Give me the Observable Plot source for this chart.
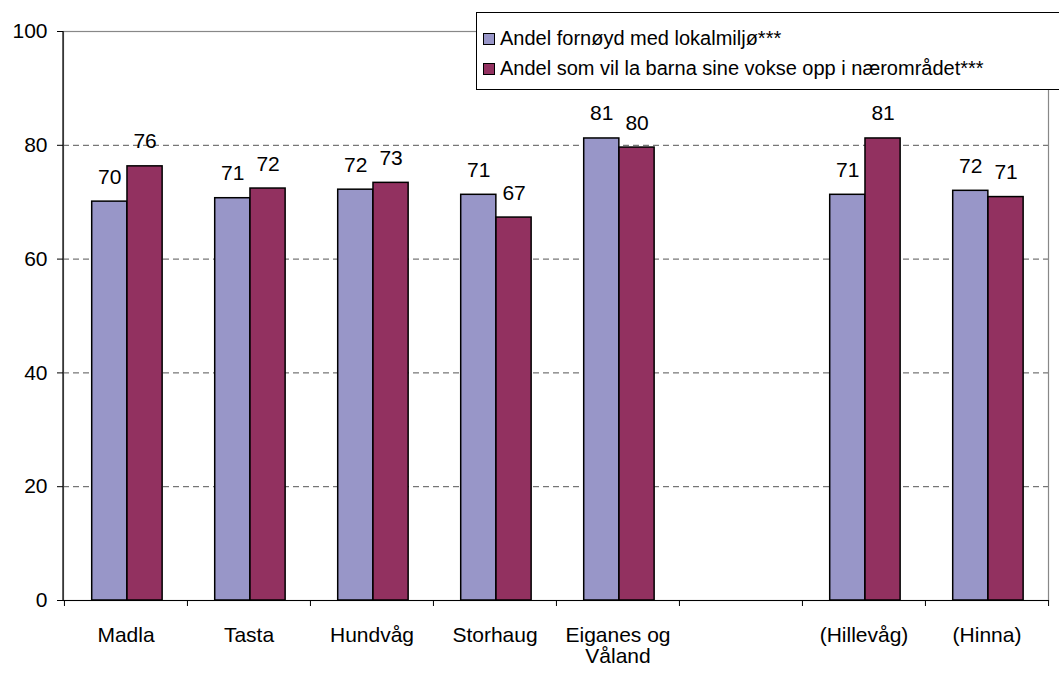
<!DOCTYPE html>
<html>
<head>
<meta charset="utf-8">
<script src="https://cdn.jsdelivr.net/npm/d3@7"></script>
<script src="https://cdn.jsdelivr.net/npm/@observablehq/plot@0.6"></script>
<style>
  html, body { margin: 0; padding: 0; background: #fff; }
  #wrap { position: relative; width: 1059px; height: 673px; overflow: hidden; font-family: "Liberation Sans", Arial, sans-serif; }
  #legend { position: absolute; left: 476px; top: 12px; width: 600px; height: 78px; border: 1px solid #000; background: #fff; box-sizing: border-box; font-size: 20px; color: #000; }
  .item { position: absolute; left: 6px; display: flex; align-items: center; white-space: nowrap; }
  .sw { width: 10px; height: 10px; border: 1px solid #000; margin-right: 5px; }
</style>
</head>
<body>
<div id="wrap">
  <div id="chart"></div>
  <div id="legend"></div>
</div>
<script>
const categories = ["Madla", "Tasta", "Hundvåg", "Storhaug", "Eiganes og Våland", "", "(Hillevåg)", "(Hinna)"];
const seriesNames = ["Andel fornøyd med lokalmiljø***", "Andel som vil la barna sine vokse opp i nærområdet***"];
const fornoyd = [70.1, 70.7, 72.2, 71.3, 81.2, null, 71.3, 72.0];
const barnaOpp = [76.3, 72.4, 73.4, 67.3, 79.6, null, 81.2, 70.9];
const yTicks = [0, 20, 40, 60, 80, 100];
const gridTicks = [20, 40, 60, 80];
const colors = ["#9896C8", "#923160"];

const width = 1059, height = 673;
const marginLeft = 63, marginRight = 11, marginTop = 31, marginBottom = 73;
const step = (width - marginLeft - marginRight) / categories.length;

const rows1 = categories.map((c, i) => ({cat: c, v: fornoyd[i]})).filter(d => d.v != null);
const rows2 = categories.map((c, i) => ({cat: c, v: barnaOpp[i]})).filter(d => d.v != null);

// bar geometry relative to the band (pixels)
const barW = step * 0.2865;
const off1 = step * 0.225;
const off2 = off1 + barW;

const chart = Plot.plot({
  width, height, marginLeft, marginRight, marginTop, marginBottom,
  style: {fontFamily: '"Liberation Sans", Arial, sans-serif', fontSize: "21px", color: "#000", background: "transparent"},
  x: {domain: categories, padding: 0, label: null},
  y: {domain: [0, 100], label: null},
  marks: [
    Plot.ruleY(gridTicks, {stroke: "#555", strokeDasharray: "6,4", strokeWidth: 1}),
    Plot.frame({stroke: "#888", strokeWidth: 1.2}),
    Plot.barY(rows1, {x: "cat", y: "v", fill: colors[0], stroke: "#000", strokeWidth: 1.5,
      insetLeft: off1, insetRight: step - off1 - barW}),
    Plot.barY(rows2, {x: "cat", y: "v", fill: colors[1], stroke: "#000", strokeWidth: 1.5,
      insetLeft: off2, insetRight: step - off2 - barW}),
    Plot.text(rows1, {x: "cat", y: "v", text: d => String(Math.round(d.v)), dx: off1 + barW / 2 - step / 2, dy: -18, lineAnchor: "bottom", fontSize: 21}),
    Plot.text(rows2, {x: "cat", y: "v", text: d => String(Math.round(d.v)), dx: off2 + barW / 2 - step / 2, dy: -18, lineAnchor: "bottom", fontSize: 21}),
    Plot.axisY({ticks: yTicks, tickSize: 6, tickPadding: 10, stroke: "#000", fontSize: 21}),
    Plot.axisX({tickSize: 0, tickPadding: 27, fontSize: 21, tickFormat: d => d === "Eiganes og Våland" ? "Eiganes og\nVåland" : d}),
    Plot.ruleY([0], {stroke: "#000", strokeWidth: 1.2}),
    Plot.ruleX(categories, {x: d => d, y1: 0, y2: 0, insetBottom: -6, dx: -step / 2, stroke: "#000"}),
    Plot.ruleX([categories[categories.length - 1]], {x: d => d, y1: 0, y2: 0, insetBottom: -6, dx: step / 2, stroke: "#000"})
  ]
});
// left axis line
const ns = "http://www.w3.org/2000/svg";
const line = document.createElementNS(ns, "line");
line.setAttribute("x1", marginLeft); line.setAttribute("x2", marginLeft);
line.setAttribute("y1", marginTop); line.setAttribute("y2", height - marginBottom);
line.setAttribute("stroke", "#000"); line.setAttribute("stroke-width", "1.2");
chart.appendChild(line);
document.getElementById("chart").appendChild(chart);

const legend = document.getElementById("legend");
seriesNames.forEach((name, i) => {
  const it = document.createElement("div");
  it.className = "item";
  it.style.top = (i === 0 ? 14 : 44) + "px";
  const sw = document.createElement("div");
  sw.className = "sw"; sw.style.background = colors[i];
  const tx = document.createElement("span");
  tx.textContent = name;
  it.appendChild(sw); it.appendChild(tx);
  legend.appendChild(it);
});
</script>
</body>
</html>
